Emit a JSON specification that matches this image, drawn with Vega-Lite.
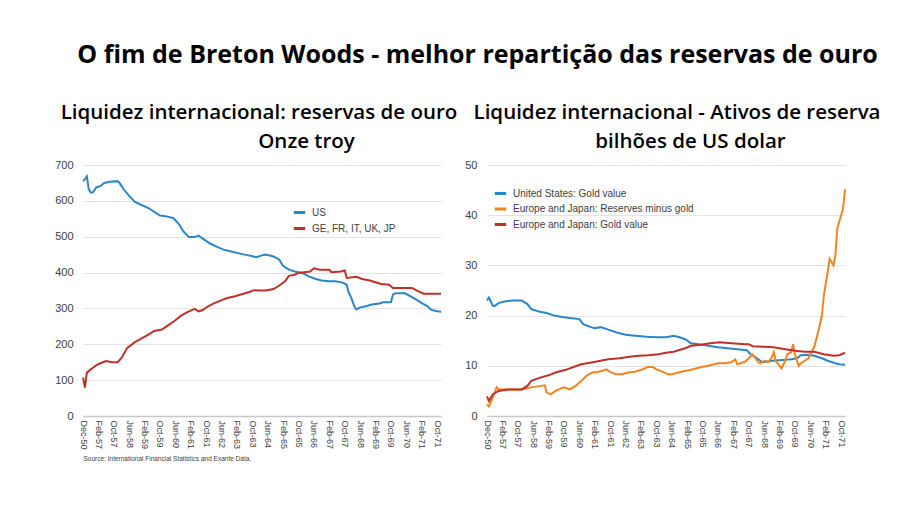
{
  "$schema": "https://vega.github.io/schema/vega-lite/v6.json",
  "background": "white",
  "padding": {"left": 54, "top": 42, "right": 5, "bottom": 10},
  "bounds": "flush",
  "spacing": 46,
  "resolve": {"scale": {"color": "independent", "x": "independent", "y": "independent"}},
  "title": {"text": "O fim de Breton Woods - melhor repartição das reservas de ouro", "font": "Open Sans", "fontSize": 25, "fontWeight": "bold", "color": "#000000", "anchor": "middle", "frame": "bounds", "dx": 10, "offset": 35},
  "datasets": {
    "L": [
      {"i":0,"s":"US","v":655},{"i":1,"s":"US","v":660},{"i":2,"s":"US","v":668},{"i":3,"s":"US","v":632},{"i":4,"s":"US","v":623},{"i":5,"s":"US","v":623},{"i":6,"s":"US","v":630},{"i":7,"s":"US","v":638},{"i":9,"s":"US","v":641},{"i":11,"s":"US","v":650},{"i":14,"s":"US","v":653},{"i":18,"s":"US","v":655},{"i":19,"s":"US","v":650},{"i":21,"s":"US","v":633},{"i":24,"s":"US","v":614},{"i":27,"s":"US","v":597},{"i":31,"s":"US","v":587},{"i":34,"s":"US","v":580},{"i":38,"s":"US","v":566},{"i":40,"s":"US","v":559},{"i":43,"s":"US","v":557},{"i":47,"s":"US","v":552},{"i":50,"s":"US","v":534},{"i":52,"s":"US","v":516},{"i":55,"s":"US","v":499},{"i":58,"s":"US","v":499},{"i":60,"s":"US","v":503},{"i":63,"s":"US","v":492},{"i":66,"s":"US","v":481},{"i":70,"s":"US","v":471},{"i":73,"s":"US","v":464},{"i":77,"s":"US","v":459},{"i":80,"s":"US","v":455},{"i":84,"s":"US","v":450},{"i":87,"s":"US","v":447},{"i":90,"s":"US","v":443},{"i":93,"s":"US","v":448},{"i":95,"s":"US","v":450},{"i":99,"s":"US","v":445},{"i":102,"s":"US","v":436},{"i":104,"s":"US","v":418},{"i":107,"s":"US","v":408},{"i":110,"s":"US","v":403},{"i":114,"s":"US","v":399},{"i":117,"s":"US","v":390},{"i":121,"s":"US","v":382},{"i":124,"s":"US","v":378},{"i":128,"s":"US","v":376},{"i":131,"s":"US","v":376},{"i":135,"s":"US","v":372},{"i":137,"s":"US","v":366},{"i":138,"s":"US","v":345},{"i":139,"s":"US","v":334},{"i":141,"s":"US","v":306},{"i":142,"s":"US","v":297},{"i":144,"s":"US","v":303},{"i":147,"s":"US","v":306},{"i":150,"s":"US","v":311},{"i":154,"s":"US","v":314},{"i":156,"s":"US","v":317},{"i":160,"s":"US","v":317},{"i":161,"s":"US","v":338},{"i":162,"s":"US","v":342},{"i":167,"s":"US","v":343},{"i":170,"s":"US","v":334},{"i":173,"s":"US","v":325},{"i":176,"s":"US","v":315},{"i":179,"s":"US","v":306},{"i":181,"s":"US","v":296},{"i":184,"s":"US","v":292},{"i":186,"s":"US","v":291},
      {"i":0,"s":"EU","v":107},{"i":1,"s":"EU","v":79},{"i":2,"s":"EU","v":121},{"i":4,"s":"EU","v":130},{"i":5,"s":"EU","v":134},{"i":7,"s":"EU","v":142},{"i":9,"s":"EU","v":147},{"i":12,"s":"EU","v":153},{"i":15,"s":"EU","v":150},{"i":18,"s":"EU","v":150},{"i":20,"s":"EU","v":162},{"i":23,"s":"EU","v":190},{"i":27,"s":"EU","v":206},{"i":30,"s":"EU","v":215},{"i":34,"s":"EU","v":227},{"i":37,"s":"EU","v":237},{"i":41,"s":"EU","v":241},{"i":44,"s":"EU","v":252},{"i":48,"s":"EU","v":267},{"i":51,"s":"EU","v":280},{"i":54,"s":"EU","v":289},{"i":58,"s":"EU","v":299},{"i":60,"s":"EU","v":292},{"i":62,"s":"EU","v":295},{"i":65,"s":"EU","v":306},{"i":68,"s":"EU","v":314},{"i":72,"s":"EU","v":323},{"i":75,"s":"EU","v":329},{"i":79,"s":"EU","v":334},{"i":82,"s":"EU","v":339},{"i":86,"s":"EU","v":345},{"i":89,"s":"EU","v":351},{"i":92,"s":"EU","v":350},{"i":95,"s":"EU","v":350},{"i":99,"s":"EU","v":354},{"i":102,"s":"EU","v":364},{"i":105,"s":"EU","v":376},{"i":107,"s":"EU","v":391},{"i":110,"s":"EU","v":394},{"i":112,"s":"EU","v":399},{"i":118,"s":"EU","v":403},{"i":120,"s":"EU","v":412},{"i":123,"s":"EU","v":408},{"i":128,"s":"EU","v":408},{"i":129,"s":"EU","v":401},{"i":134,"s":"EU","v":403},{"i":136,"s":"EU","v":406},{"i":137,"s":"EU","v":385},{"i":142,"s":"EU","v":388},{"i":145,"s":"EU","v":382},{"i":149,"s":"EU","v":378},{"i":152,"s":"EU","v":373},{"i":155,"s":"EU","v":368},{"i":159,"s":"EU","v":366},{"i":161,"s":"EU","v":357},{"i":171,"s":"EU","v":357},{"i":174,"s":"EU","v":348},{"i":177,"s":"EU","v":341},{"i":186,"s":"EU","v":341}
    ],
    "R": [
      {"i":0,"s":"a","v":23.0},{"i":1,"s":"a","v":23.6},{"i":3,"s":"a","v":22.0},{"i":4,"s":"a","v":21.9},{"i":6,"s":"a","v":22.5},{"i":9,"s":"a","v":22.8},{"i":13,"s":"a","v":23.0},{"i":18,"s":"a","v":23.0},{"i":21,"s":"a","v":22.3},{"i":23,"s":"a","v":21.3},{"i":27,"s":"a","v":20.8},{"i":31,"s":"a","v":20.5},{"i":35,"s":"a","v":20.0},{"i":39,"s":"a","v":19.7},{"i":43,"s":"a","v":19.5},{"i":48,"s":"a","v":19.3},{"i":50,"s":"a","v":18.3},{"i":54,"s":"a","v":17.7},{"i":56,"s":"a","v":17.5},{"i":59,"s":"a","v":17.7},{"i":63,"s":"a","v":17.2},{"i":67,"s":"a","v":16.7},{"i":72,"s":"a","v":16.2},{"i":77,"s":"a","v":16.0},{"i":83,"s":"a","v":15.8},{"i":88,"s":"a","v":15.7},{"i":93,"s":"a","v":15.7},{"i":97,"s":"a","v":16.0},{"i":100,"s":"a","v":15.7},{"i":103,"s":"a","v":15.3},{"i":106,"s":"a","v":14.5},{"i":110,"s":"a","v":14.3},{"i":115,"s":"a","v":14.0},{"i":120,"s":"a","v":13.7},{"i":125,"s":"a","v":13.5},{"i":130,"s":"a","v":13.3},{"i":135,"s":"a","v":13.1},{"i":137,"s":"a","v":12.3},{"i":141,"s":"a","v":11.3},{"i":143,"s":"a","v":10.7},{"i":148,"s":"a","v":11.0},{"i":152,"s":"a","v":11.1},{"i":158,"s":"a","v":11.3},{"i":161,"s":"a","v":11.5},{"i":163,"s":"a","v":12.1},{"i":167,"s":"a","v":12.2},{"i":170,"s":"a","v":12.0},{"i":174,"s":"a","v":11.5},{"i":177,"s":"a","v":11.0},{"i":181,"s":"a","v":10.5},{"i":183,"s":"a","v":10.3},{"i":186,"s":"a","v":10.2},
      {"i":0,"s":"b","v":2.3},{"i":1,"s":"b","v":1.9},{"i":3,"s":"b","v":3.7},{"i":5,"s":"b","v":5.7},{"i":6,"s":"b","v":5.3},{"i":9,"s":"b","v":5.3},{"i":13,"s":"b","v":5.3},{"i":18,"s":"b","v":5.3},{"i":23,"s":"b","v":5.7},{"i":28,"s":"b","v":6.0},{"i":30,"s":"b","v":6.1},{"i":31,"s":"b","v":4.7},{"i":33,"s":"b","v":4.3},{"i":36,"s":"b","v":5.1},{"i":40,"s":"b","v":5.7},{"i":43,"s":"b","v":5.3},{"i":46,"s":"b","v":6.0},{"i":49,"s":"b","v":7.0},{"i":52,"s":"b","v":8.1},{"i":55,"s":"b","v":8.7},{"i":57,"s":"b","v":8.7},{"i":60,"s":"b","v":9.0},{"i":62,"s":"b","v":9.3},{"i":64,"s":"b","v":8.8},{"i":67,"s":"b","v":8.3},{"i":70,"s":"b","v":8.3},{"i":74,"s":"b","v":8.7},{"i":77,"s":"b","v":8.8},{"i":81,"s":"b","v":9.3},{"i":83,"s":"b","v":9.7},{"i":86,"s":"b","v":9.8},{"i":88,"s":"b","v":9.3},{"i":92,"s":"b","v":8.7},{"i":94,"s":"b","v":8.3},{"i":96,"s":"b","v":8.3},{"i":101,"s":"b","v":8.8},{"i":106,"s":"b","v":9.2},{"i":111,"s":"b","v":9.7},{"i":116,"s":"b","v":10.1},{"i":120,"s":"b","v":10.5},{"i":123,"s":"b","v":10.5},{"i":127,"s":"b","v":10.7},{"i":129,"s":"b","v":11.3},{"i":130,"s":"b","v":10.3},{"i":134,"s":"b","v":10.8},{"i":136,"s":"b","v":11.5},{"i":138,"s":"b","v":12.3},{"i":139,"s":"b","v":11.7},{"i":141,"s":"b","v":10.7},{"i":142,"s":"b","v":10.5},{"i":144,"s":"b","v":11.0},{"i":146,"s":"b","v":10.7},{"i":148,"s":"b","v":11.7},{"i":149,"s":"b","v":12.7},{"i":150,"s":"b","v":11.0},{"i":152,"s":"b","v":10.0},{"i":153,"s":"b","v":9.5},{"i":155,"s":"b","v":11.0},{"i":156,"s":"b","v":12.3},{"i":158,"s":"b","v":12.7},{"i":159,"s":"b","v":14.3},{"i":160,"s":"b","v":12.3},{"i":162,"s":"b","v":10.0},{"i":163,"s":"b","v":10.5},{"i":165,"s":"b","v":11.0},{"i":167,"s":"b","v":11.5},{"i":168,"s":"b","v":12.3},{"i":170,"s":"b","v":13.7},{"i":172,"s":"b","v":16.7},{"i":174,"s":"b","v":20.0},{"i":175,"s":"b","v":24.0},{"i":177,"s":"b","v":28.7},{"i":178,"s":"b","v":31.3},{"i":179,"s":"b","v":30.7},{"i":180,"s":"b","v":30.0},{"i":181,"s":"b","v":32.0},{"i":182,"s":"b","v":37.3},{"i":183,"s":"b","v":38.7},{"i":185,"s":"b","v":41.3},{"i":186,"s":"b","v":45.2},
      {"i":0,"s":"c","v":3.9},{"i":1,"s":"c","v":3.0},{"i":3,"s":"c","v":4.3},{"i":6,"s":"c","v":5.0},{"i":11,"s":"c","v":5.3},{"i":18,"s":"c","v":5.3},{"i":21,"s":"c","v":6.0},{"i":23,"s":"c","v":7.0},{"i":28,"s":"c","v":7.7},{"i":32,"s":"c","v":8.1},{"i":36,"s":"c","v":8.7},{"i":41,"s":"c","v":9.2},{"i":46,"s":"c","v":9.9},{"i":49,"s":"c","v":10.3},{"i":55,"s":"c","v":10.7},{"i":59,"s":"c","v":11.0},{"i":63,"s":"c","v":11.3},{"i":69,"s":"c","v":11.5},{"i":74,"s":"c","v":11.8},{"i":79,"s":"c","v":12.0},{"i":84,"s":"c","v":12.1},{"i":89,"s":"c","v":12.3},{"i":93,"s":"c","v":12.6},{"i":97,"s":"c","v":12.8},{"i":103,"s":"c","v":13.5},{"i":106,"s":"c","v":14.0},{"i":111,"s":"c","v":14.2},{"i":116,"s":"c","v":14.5},{"i":121,"s":"c","v":14.7},{"i":127,"s":"c","v":14.5},{"i":134,"s":"c","v":14.3},{"i":136,"s":"c","v":14.3},{"i":138,"s":"c","v":13.9},{"i":144,"s":"c","v":13.8},{"i":149,"s":"c","v":13.7},{"i":155,"s":"c","v":13.3},{"i":160,"s":"c","v":13.0},{"i":165,"s":"c","v":12.8},{"i":170,"s":"c","v":12.8},{"i":175,"s":"c","v":12.3},{"i":180,"s":"c","v":12.0},{"i":183,"s":"c","v":12.1},{"i":186,"s":"c","v":12.6}
    ]
  },
  "hconcat": [
    {
      "width": 358, "height": 251,
      "title": {"text": "Liquidez internacional: reservas de ouro", "dx": -3},
      "data": {"name": "L"},
      "mark": {"type": "line", "strokeWidth": 2},
      "encoding": {
        "x": {"field": "i", "type": "quantitative", "scale": {"domain": [0, 186], "nice": false, "zero": false},
          "axis": {"values": [0,8,16,24,32,40,48,56,64,72,80,88,96,104,112,120,128,136,144,152,160,168,176,184],
            "labelExpr": "datum.value == 0 ? 'Dec-50' : ['Jan','Feb','Mar','Apr','May','Jun','Jul','Aug','Sep','Oct','Nov','Dec'][(datum.value - 7) % 12] + '-' + (57 + floor((datum.value - 7) / 12))",
            "title": "Source: International Financial Statistics and Exante Data.", "titleAnchor": "start", "titleAlign": "left", "titleFontSize": 6.5, "titleFontWeight": "normal", "titleColor": "#404040", "titleFont": "Liberation Sans", "titlePadding": 6}},
        "y": {"field": "v", "type": "quantitative", "scale": {"domain": [0, 700], "nice": false},
          "axis": {"values": [0,100,200,300,400,500,600,700], "title": "Onze troy", "titleX": 223, "titleY": -18}},
        "color": {"field": "s", "type": "nominal", "scale": {"domain": ["US", "EU"], "range": ["#2b86c9", "#c0302a"]},
          "legend": {"title": null, "orient": "none", "legendX": 209, "legendY": 40, "rowPadding": 2, "labelExpr": "datum.label == 'EU' ? 'GE, FR, IT, UK, JP' : 'US'"}}
      }
    },
    {
      "width": 358, "height": 251,
      "title": {"text": "Liquidez internacional - Ativos de reserva", "dx": 11},
      "data": {"name": "R"},
      "mark": {"type": "line", "strokeWidth": 2},
      "encoding": {
        "x": {"field": "i", "type": "quantitative", "scale": {"domain": [0, 186], "nice": false, "zero": false},
          "axis": {"values": [0,8,16,24,32,40,48,56,64,72,80,88,96,104,112,120,128,136,144,152,160,168,176,184],
            "labelExpr": "datum.value == 0 ? 'Dec-50' : ['Jan','Feb','Mar','Apr','May','Jun','Jul','Aug','Sep','Oct','Nov','Dec'][(datum.value - 7) % 12] + '-' + (57 + floor((datum.value - 7) / 12))",
            "title": null}},
        "y": {"field": "v", "type": "quantitative", "scale": {"domain": [0, 50], "nice": false},
          "axis": {"values": [0,10,20,30,40,50], "title": "bilhões de US dolar", "titleX": 203, "titleY": -18}},
        "color": {"field": "s", "type": "nominal", "scale": {"domain": ["a", "b", "c"], "range": ["#2b86c9", "#f5841f", "#c0302a"]},
          "legend": {"title": null, "orient": "none", "legendX": 6, "legendY": 21, "rowPadding": 1.5, "labelExpr": "datum.label == 'a' ? 'United States: Gold value' : datum.label == 'b' ? 'Europe and Japan: Reserves minus gold' : 'Europe and Japan: Gold value'"}}
      }
    }
  ],
  "config": {
    "view": {"stroke": null},
    "title": {"font": "Open Sans", "fontSize": 20.5, "fontWeight": 600, "color": "#000000", "anchor": "middle", "frame": "group", "offset": 8},
    "axis": {"labelFont": "Liberation Sans", "labelColor": "#404040", "ticks": false, "grid": false},
    "axisX": {"labelAngle": 90, "labelAlign": "left", "labelBaseline": "middle", "labelFontSize": 9, "labelPadding": 4, "labelFlush": false, "labelOverlap": false, "labelBound": false, "domainColor": "#c8c8c8", "domainWidth": 1.5},
    "axisY": {"labelFontSize": 11, "labelPadding": 10, "domain": false, "grid": true, "gridColor": "#e3e3e3", "gridWidth": 1, "titleAngle": 0, "titleAlign": "center", "titleBaseline": "alphabetic", "titleFont": "Open Sans", "titleFontSize": 20.5, "titleFontWeight": 600, "titleColor": "#000000", "titleLimit": 0},
    "legend": {"symbolType": "stroke", "symbolStrokeWidth": 3, "symbolSize": 130, "labelFont": "Liberation Sans", "labelFontSize": 10, "labelColor": "#404040", "labelOffset": 5, "labelLimit": 0, "direction": "vertical"}
  }
}
